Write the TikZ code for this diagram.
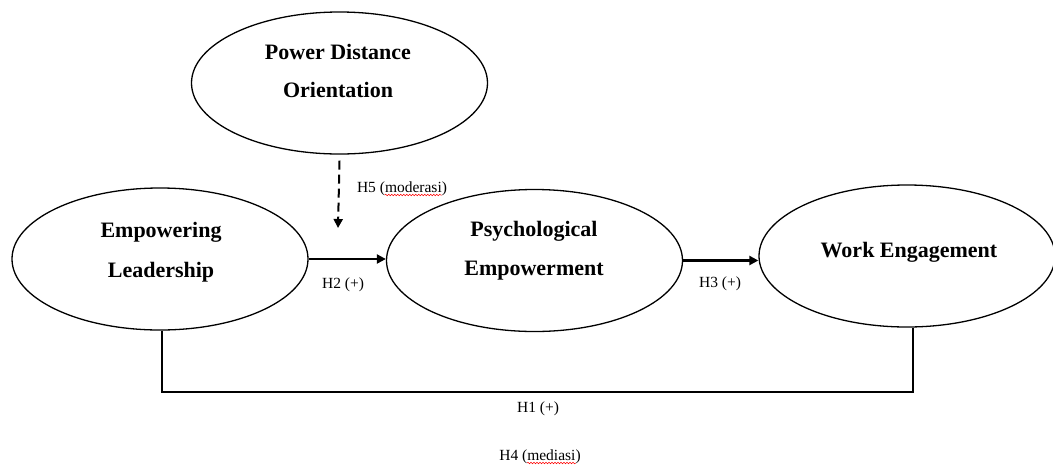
\documentclass[tikz,border=0pt]{standalone}
\usepackage{fontspec}
\setmainfont{Liberation Serif}
\usetikzlibrary{shapes.geometric,arrows.meta,decorations.pathmorphing}
\begin{document}
\begin{tikzpicture}[x=1pt,y=-1pt,
  construct/.style={draw, ellipse, line width=1.3pt, minimum width=296pt,
    minimum height=142pt, inner sep=0pt},
  title/.style={font=\fontsize{22}{26}\selectfont\bfseries, anchor=base, inner sep=0pt},
  hyp/.style={font=\fontsize{15.5}{18}\selectfont, anchor=base, inner sep=0pt},
  effect/.style={line width=2.2pt, -{Triangle[length=9pt,width=9pt]}},
  moderation/.style={line width=2pt, dash pattern=on 9pt off 5pt,
    -{Triangle[length=9pt,width=9pt]}},
  spell/.style={red, line width=0.5pt, decorate,
    decoration={snake, amplitude=0.8pt, segment length=3pt}}
]
\useasboundingbox (0,0) rectangle (1053,467);

% constructs
\node[construct] (PDO) at (339.5,83) {};
\node[construct] (EL)  at (160,259) {};
\node[construct] (PE)  at (534.5,260.5) {};
\node[construct] (WE)  at (907,256) {};

% construct names
\node[title] (PDOa) at (338,59) {Power Distance};
\node[title] (PDOb) at (338,97) {Orientation};
\node[title] (ELa)  at (161,237) {Empowering};
\node[title] (ELb)  at (161,277) {Leadership};
\node[title] (PEa)  at (534,236) {Psychological};
\node[title] (PEb)  at (534,275) {Empowerment};
\node[title] (WEa)  at (909,257) {Work Engagement};

% direct paths
\draw[effect] (EL.east) -- (EL.east -| PE.west);
\draw[effect] (PE.east) -- (PE.east -| WE.west);

% moderating effect on H2
\coordinate (modtip) at (338,228);
\draw[moderation] ([yshift=-6pt]PDO.south) -- (modtip);

% total effect H1
\coordinate (h1y) at (0,392);
\draw[line width=2pt] ([xshift=2pt]EL.south) -- ([xshift=2pt]EL.south |- h1y)
  -- ([xshift=6pt]WE.south |- h1y) -- ([xshift=6pt]WE.south);

% hypothesis labels
\node[hyp] (H5) at (402,192) {H5 (moderasi)};
\node[hyp] (H2) at (343,288) {H2 (+)};
\node[hyp] (H3) at (720,287) {H3 (+)};
\node[hyp] (H1) at (538,412) {H1 (+)};
\node[hyp] (H4) at (540,460) {H4 (mediasi)};

% spelling marks
\draw[spell] ([xshift=28pt,yshift=-3pt]H5.base west) -- ([xshift=-5pt,yshift=-3pt]H5.base east);
\draw[spell] ([xshift=28pt,yshift=-3pt]H4.base west) -- ([xshift=-5pt,yshift=-3pt]H4.base east);
\end{tikzpicture}
\end{document}
